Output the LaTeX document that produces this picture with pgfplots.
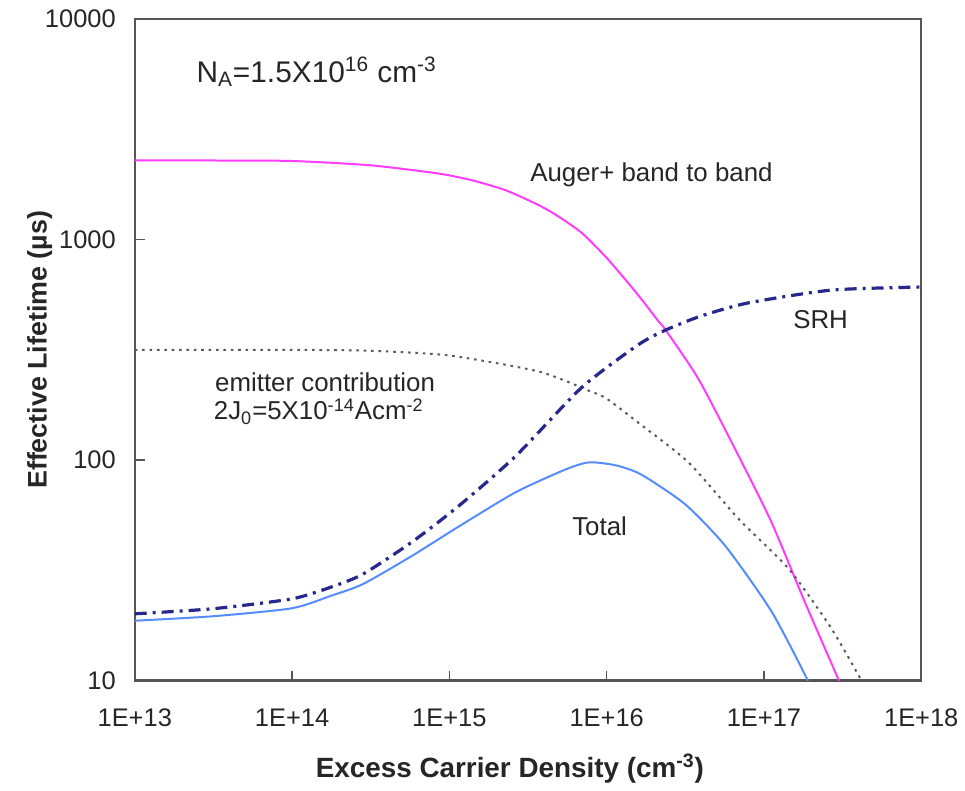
\documentclass[border=0pt]{standalone}
\usepackage{fontspec}
\setmainfont{Liberation Sans}
\usepackage{pgfplots}
\pgfplotsset{compat=1.18}

\definecolor{augercol}{RGB}{255,60,255}
\definecolor{totalcol}{RGB}{85,140,255}
\definecolor{srhcol}{RGB}{40,40,140}
\definecolor{emitcol}{RGB}{90,90,90}
\definecolor{framecol}{RGB}{85,85,85}

\begin{document}
\begin{tikzpicture}
\begin{axis}[
  scale only axis,
  width=394bp, height=331.5bp,
  xmode=log, ymode=log,
  xmin=1e13, xmax=1e18,
  ymin=10, ymax=10000,
  log basis x=10, log basis y=10,
  xtick={1e13,1e14,1e15,1e16,1e17,1e18},
  xticklabels={1E+13,1E+14,1E+15,1E+16,1E+17,1E+18},
  ytick={10,100,1000,10000},
  yticklabels={10,100,1000,10000},
  xtick pos=left, ytick pos=left,
  tick align=inside,
  major tick length=5bp, minor tick length=3.5bp,
  every tick/.style={framecol, line width=0.8pt},
  axis line style={framecol, line width=1.2pt},
  tick label style={font=\fontsize{12.8}{14}\selectfont, text=black!85},
  /pgf/number format/assume math mode=true,
  xticklabel style={yshift=-10.5bp},
  yticklabel style={xshift=-6bp},
  xlabel={Excess Carrier Density (cm\textsuperscript{-3})},
  ylabel={Effective Lifetime (µs)},
  every axis x label/.style={at={(axis description cs:0.477,-0.133)}, anchor=center,
    font=\fontsize{14}{16}\selectfont\bfseries, text=black!85},
  every axis y label/.style={at={(axis description cs:-0.121,0.5)}, anchor=center, rotate=90,
    font=\fontsize{13.5}{16}\selectfont\bfseries, text=black!85},
  clip=true,
]

% Auger + band-to-band recombination
\addplot[augercol, line width=1bp, smooth, tension=0.4] coordinates {
  (1e13,2285) (3.16e13,2282) (1e14,2270) (3.16e14,2170) (8.61e14,1990)
  (1.40e15,1854) (2.29e15,1671) (3.72e15,1429) (4.98e15,1267) (7.0e15,1067)
  (9.84e15,836) (1.32e16,656) (1.68e16,532) (2.14e16,425) (2.37e16,389)
  (3.85e16,232) (6.92e16,104) (1.12e17,52) (1.82e17,22.7) (3.0e17,10)
};

% emitter contribution
\addplot[emitcol, line width=1bp, dash pattern=on 1.3bp off 2.4bp, smooth, tension=0.4] coordinates {
  (1e13,316) (1e14,316) (3.16e14,313) (1e15,298) (3.715e15,252)
  (7.76e15,206) (1e16,190) (1.585e16,148) (3.31e16,97.7) (6.92e16,54)
  (1.445e17,32) (2.69e17,17.2) (4.17e17,10)
};

% SRH
\addplot[srhcol, line width=1.6bp, dash pattern=on 6bp off 3bp on 1.5bp off 3bp, smooth, tension=0.4] coordinates {
  (1e13,20.1) (3.16e13,21.2) (1e14,23.5) (1.78e14,26.6) (2.82e14,30.4)
  (5.75e14,42.4) (1.148e15,62) (2.63e15,104) (6.92e15,213) (1.585e16,333)
  (2.377e16,389) (3.98e16,450) (7.94e16,516) (2.69e17,590) (1e18,609)
};

% total effective lifetime
\addplot[totalcol, line width=1bp, smooth, tension=0.4] coordinates {
  (1e13,18.7) (3.16e13,19.6) (1e14,21.3) (1.78e14,24.3) (2.82e14,27.4) (5.75e14,36.7)
  (1.148e15,50) (2.63e15,71.4) (5.5e15,90.8) (7.76e15,97.7) (1.148e16,94.6)
  (1.66e16,86) (3.16e16,63) (5.7e16,40.7) (1.122e17,20.5) (1.905e17,10)
};

\begin{scope}[every node/.style={text=black!85}]
\node[anchor=west, inner sep=0pt, font=\fontsize{15}{17}\selectfont] at (rel axis cs:0.078,0.92)
  {N\textsubscript{A}=1.5X10\textsuperscript{16} cm\textsuperscript{-3}};
\node[font=\fontsize{13}{15}\selectfont] at (rel axis cs:0.657,0.765) {Auger+ band to band};
\node[font=\fontsize{13}{15}\selectfont] at (rel axis cs:0.872,0.546) {SRH};
\node[font=\fontsize{13}{15}\selectfont] at (rel axis cs:0.242,0.451) {emitter contribution};
\node[font=\fontsize{13}{15}\selectfont] at (rel axis cs:0.234,0.407)
  {2J\textsubscript{0}=5X10\textsuperscript{-14}Acm\textsuperscript{-2}};
\node[font=\fontsize{13}{15}\selectfont] at (rel axis cs:0.591,0.234) {Total};
\end{scope}
\end{axis}
\path ([shift={(-67.5bp,-51bp)}]current axis.south west)
  rectangle ([shift={(21bp,9.5bp)}]current axis.north east);
\end{tikzpicture}
\end{document}
